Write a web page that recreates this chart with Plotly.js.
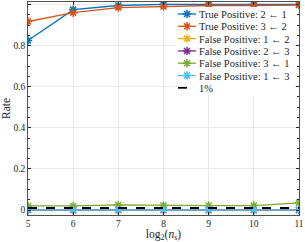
<!DOCTYPE html>
<html><head><meta charset="utf-8">
<script src="https://cdn.plot.ly/plotly-3.0.1.min.js"></script>
<style>html,body{margin:0;padding:0;background:#fff}#c{width:305px;height:242px}</style>
</head><body><div id="c"></div>
<script>
const xs = [5, 6, 7, 8, 9, 10, 11];
const names = ["True Positive: 2 \u2190 1", "True Positive: 3 \u2190 2", "False Positive: 1 \u2190 2",
  "False Positive: 2 \u2190 3", "False Positive: 3 \u2190 1", "False Positive: 1 \u2190 3"];
const tp21 = [0.825, 0.975, 0.995, 1.0, 1.0, 1.0, 1.0];
const tp32 = [0.917, 0.96, 0.985, 0.99, 0.995, 0.995, 0.997];
const fp12 = [0, 0, 0, 0, 0, 0, 0];
const fp23 = [0, 0, 0, 0, 0, 0, 0];
const fp31 = [0.02, 0.02, 0.025, 0.022, 0.022, 0.022, 0.035];
const fp13 = [0, 0, 0, 0, 0, 0, 0];
const onePct = [0.01, 0.01, 0.01, 0.01, 0.01, 0.01, 0.01];
const colors = ["#0072BD", "#D95319", "#EDB120", "#7E2F8E", "#77AC30", "#4DBEEE"];
const series = [tp21, tp32, fp12, fp23, fp31, fp13];
const SERIF = "Liberation Serif";

const traces = series.map((s, i) => ({
  x: xs, y: s, name: names[i], type: "scatter", mode: "lines+markers",
  line: {color: colors[i], width: 1.3},
  marker: {symbol: "asterisk-open", size: 7, color: colors[i], line: {color: colors[i], width: 1.5}}
}));
traces.push({x: xs, y: onePct, name: "1%", type: "scatter", mode: "lines",
  line: {color: "#000", width: 1.8, dash: "dash"}});

const axCommon = {
  showline: true, linecolor: "#262626", linewidth: 0.8, mirror: "ticks",
  ticks: "inside", ticklen: 3, tickcolor: "#262626",
  showgrid: true, gridcolor: "#e5e5e5", gridwidth: 0.8, zeroline: false,
  tickfont: {family: SERIF, size: 9.5, color: "#262626"}
};
const layout = {
  width: 305, height: 242,
  margin: {l: 28, r: 6, t: 2, b: 27},
  paper_bgcolor: "#fff", plot_bgcolor: "#fff",
  showlegend: true,
  font: {family: SERIF, color: "#262626"},
  xaxis: Object.assign({}, axCommon, {
    range: [5, 11], dtick: 1, tick0: 5,
    title: {text: "log<sub>2</sub>(<i>n<sub>s</sub></i>)", standoff: 3,
      font: {family: SERIF, size: 11.5, color: "#262626"}}
  }),
  yaxis: Object.assign({}, axCommon, {
    range: [-0.024, 1.012], tickvals: [0, 0.2, 0.4, 0.6, 0.8, 1], ticktext: ["0", "0.2", "0.4", "0.6", "0.8", "1"],
    minor: {dtick: 0.05, tick0: 0, ticklen: 2, ticks: "inside", tickcolor: "#262626", showgrid: false},
    title: {text: "Rate", standoff: 4, font: {family: SERIF, size: 11.5, color: "#262626"}}
  }),
  legend: {
    x: 0.985, y: 0.975, xanchor: "right", yanchor: "top",
    bgcolor: "rgba(255,255,255,1)", borderwidth: 0,
    font: {family: SERIF, size: 10.5, color: "#262626"},
    itemwidth: 30, tracegroupgap: 0
  }
};
Plotly.newPlot("c", traces, layout, {displayModeBar: false, staticPlot: true}).then(gd => {
  // compact the legend to match the reference spacing
  const leg = gd.querySelector("g.legend");
  if (!leg) return;
  const items = leg.querySelectorAll("g.traces");
  const rowH = 12.3;
  let maxW = 0;
  items.forEach((g, i) => {
    g.setAttribute("transform", `translate(0,${7 + i * rowH})`);
    g.querySelectorAll("path.js-line").forEach(p => p.setAttribute("d", "M3,0h18"));
    g.querySelectorAll("g.legendpoints path").forEach(p => p.setAttribute("transform", "translate(12,0)"));
    const t = g.querySelector("text.legendtext");
    if (t) {
      t.setAttribute("x", "24");
      t.querySelectorAll("tspan").forEach(ts => { if (ts.hasAttribute("x")) ts.setAttribute("x", "24"); });
      maxW = Math.max(maxW, t.getBBox().width);
    }
  });
  const w = 24 + maxW + 4, h = items.length * rowH + 2;
  const bg = leg.querySelector("rect.bg");
  if (bg) { bg.setAttribute("width", w); bg.setAttribute("height", h); }
  leg.setAttribute("transform", `translate(175,7)`);
});
</script></body></html>
